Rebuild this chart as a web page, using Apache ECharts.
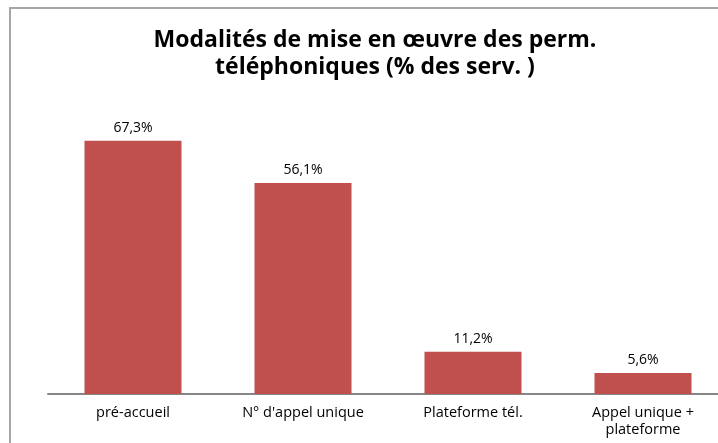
<!DOCTYPE html>
<html>
<head>
<meta charset="utf-8">
<script src="https://cdn.jsdelivr.net/npm/echarts@6/dist/echarts.min.js"></script>
<style>
  html, body { margin: 0; padding: 0; background: #fff; }
  #chart { width: 718px; height: 443px; }
</style>
</head>
<body>
<div id="chart"></div>
<script>
// données
const categories = ['pré-accueil', "N° d'appel unique", 'Plateforme tél.', 'Appel unique +\nplateforme']
const values = [67.3, 56.1, 11.2, 5.6]
const titleText = 'Modalités de mise en œuvre des perm.\ntéléphoniques (% des serv. )'

const chart = echarts.init(document.getElementById('chart'))

chart.setOption({
  animation: false,
  textStyle: { fontFamily: 'Open Sans' },
  title: {
    text: titleText,
    left: 370,
    top: 22,
    textAlign: 'center',
    textStyle: {
      fontFamily: 'Open Sans',
      fontSize: 23,
      fontWeight: 'bold',
      color: '#000',
      lineHeight: 27,
    },
  },
  // cadre du graphique : seuls les bords gauche et haut sont visibles
  graphic: [
    {
      type: 'polyline',
      shape: { points: [[10, 443], [10, 8], [718, 8]] },
      style: { fill: 'none', stroke: '#a6a6a6', lineWidth: 2 },
      silent: true,
    },
  ],
  grid: {
    left: 48,
    width: 680,
    top: 93,
    height: 301,
    outerBoundsMode: 'none',
    containLabel: false,
  },
  xAxis: {
    type: 'category',
    data: categories,
    axisLine: { lineStyle: { color: '#868686', width: 2 } },
    axisTick: { show: false },
    axisLabel: {
      margin: 10,
      fontSize: 14.5,
      color: '#000',
      lineHeight: 17,
      interval: 0,
    },
  },
  yAxis: {
    type: 'value',
    min: 0,
    max: 80,
    show: false,
    splitLine: { show: false },
  },
  series: [
    {
      type: 'bar',
      data: values,
      barWidth: 97,
      itemStyle: { color: '#c0504d' },
      label: {
        show: true,
        position: 'top',
        distance: 6,
        fontSize: 14,
        color: '#000',
        formatter: (p) => p.value.toFixed(1).replace('.', ',') + '%',
      },
    },
  ],
})
</script>
</body>
</html>
